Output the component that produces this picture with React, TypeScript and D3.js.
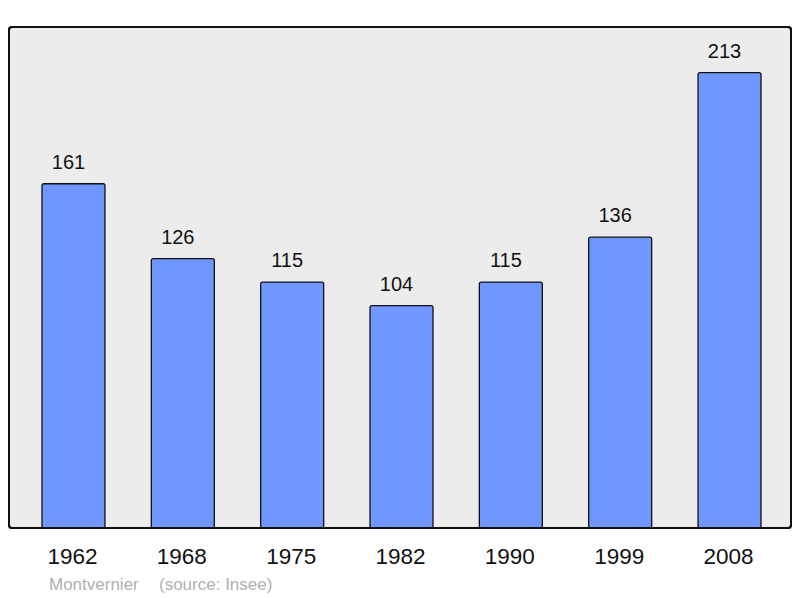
import React from 'react'
import * as d3 from 'd3'

const years = ['1962', '1968', '1975', '1982', '1990', '1999', '2008']
const population = [161, 126, 115, 104, 115, 136, 213]
const townName = 'Montvernier'
const sourceNote = '(source: Insee)'

export default function App() {
    const width = 800
    const height = 598
    const panel = { left: 9, top: 27, right: 791, bottom: 528 }

    const xScale = d3.scaleBand()
        .domain(years)
        .range([panel.left + 1.5, panel.right + 1.5])
        .paddingInner(0.424)
        .paddingOuter(0.288)

    const yScale = d3.scaleLinear()
        .domain([0, d3.max(population) * 1.1])
        .range([panel.bottom, panel.top])

    const font = '"Liberation Sans", Arial, sans-serif'

    return (
        <svg width={width} height={height}
             style={{ position: 'absolute', left: 0, top: 0, background: 'white' }}>
            <rect x={panel.left} y={panel.top}
                  width={panel.right - panel.left} height={panel.bottom - panel.top}
                  rx={3} fill="#ececec" stroke="#111" strokeWidth={2} />
            {years.map((yr, i) => {
                const x = xScale(yr)
                const y = yScale(population[i])
                const cx = x + xScale.bandwidth() / 2
                return (
                    <g key={yr}>
                        <rect x={x} y={y} width={xScale.bandwidth()} height={panel.bottom - y}
                              rx={2} fill="#7097ff" stroke="#111" strokeWidth={1.3} />
                        <text x={cx - 5} y={y - 15}
                              textAnchor="middle" fontFamily={font} fontSize={20} fill="#111">
                            {population[i]}
                        </text>
                        <text x={cx - 1} y={564}
                              textAnchor="middle" fontFamily={font} fontSize={22.5} fill="#111">
                            {yr}
                        </text>
                    </g>
                )
            })}
            <rect x={panel.left} y={panel.top}
                  width={panel.right - panel.left} height={panel.bottom - panel.top}
                  rx={3} fill="none" stroke="#111" strokeWidth={2} />
            <text x={49} y={590} fontFamily={font} fontSize={17} fill="#b0b0b0">{townName}</text>
            <text x={159} y={590} fontFamily={font} fontSize={17} fill="#b0b0b0">{sourceNote}</text>
        </svg>
    )
}
